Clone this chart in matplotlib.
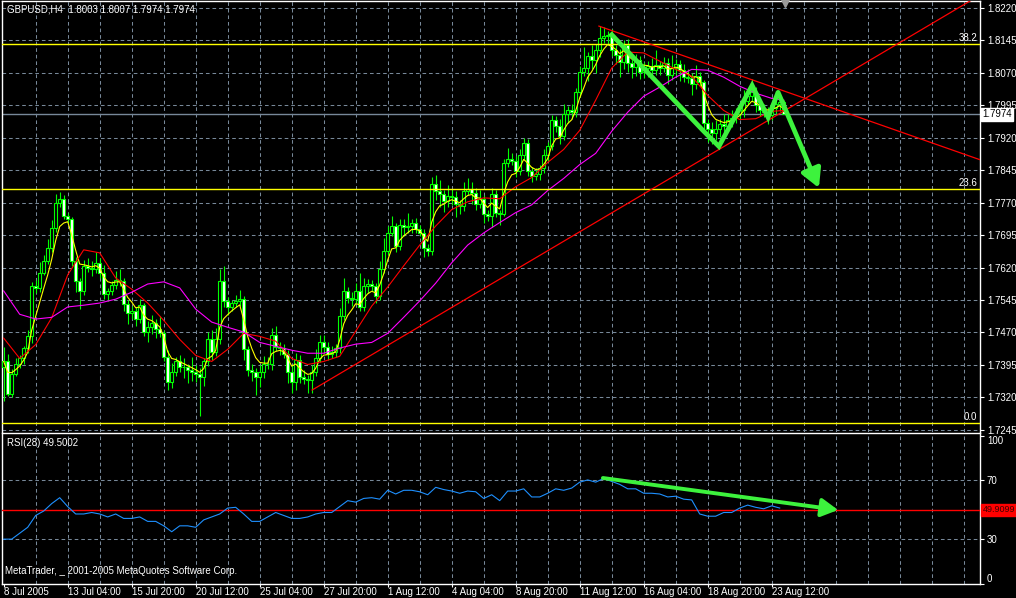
"""GBPUSD H4 candles with moving averages, Fibonacci levels, trend lines and RSI(28)."""

import matplotlib

matplotlib.use("Agg")
import matplotlib.pyplot as plt
import matplotlib.transforms as mtransforms
import numpy as np
import pandas as pd

plt.rcParams["font.family"] = ["Liberation Sans", "DejaVu Sans"]
plt.rcParams["font.size"] = 7

# ---- values --------------------------------------------------------------
first_open = 1.7391
closes = [
    1.7403, 1.7328, 1.7375, 1.7398, 1.7410, 1.7433, 1.7461, 1.7577, 1.7572, 1.7607,
    1.7635, 1.7665, 1.7711, 1.7770, 1.7779, 1.7739, 1.7732, 1.7635, 1.7588, 1.7565,
    1.7623, 1.7620, 1.7616, 1.7630, 1.7607, 1.7558, 1.7565, 1.7579, 1.7591, 1.7588,
    1.7535, 1.7514, 1.7519, 1.7500, 1.7533, 1.7472, 1.7482, 1.7491, 1.7477, 1.7468,
    1.7414, 1.7356, 1.7379, 1.7403, 1.7391, 1.7390, 1.7384, 1.7379, 1.7375, 1.7366,
    1.7403, 1.7456, 1.7426, 1.7456, 1.7588, 1.7542, 1.7530, 1.7537, 1.7542, 1.7547,
    1.7431, 1.7384, 1.7379, 1.7368, 1.7379, 1.7396, 1.7398, 1.7465, 1.7437, 1.7433,
    1.7421, 1.7379, 1.7356, 1.7407, 1.7368, 1.7363, 1.7361, 1.7379, 1.7412, 1.7449,
    1.7437, 1.7421, 1.7426, 1.7433, 1.7507, 1.7565, 1.7549, 1.7547, 1.7565, 1.7530,
    1.7577, 1.7581, 1.7577, 1.7554, 1.7616, 1.7658, 1.7700, 1.7715, 1.7670, 1.7718,
    1.7713, 1.7715, 1.7723, 1.7709, 1.7700, 1.7665, 1.7658, 1.7814, 1.7797, 1.7790,
    1.7774, 1.7786, 1.7784, 1.7767, 1.7763, 1.7797, 1.7802, 1.7793, 1.7767, 1.7779,
    1.7744, 1.7739, 1.7790, 1.7746, 1.7744, 1.7862, 1.7872, 1.7867, 1.7844, 1.7879,
    1.7907, 1.7844, 1.7832, 1.7837, 1.7849, 1.7879, 1.7900, 1.7960, 1.7948, 1.7925,
    1.7974, 1.7983, 1.7979, 1.8025, 1.8071, 1.8081, 1.8109, 1.8099, 1.8122, 1.8150,
    1.8155, 1.8157, 1.8122, 1.8111, 1.8095, 1.8134, 1.8092, 1.8083, 1.8099, 1.8071,
    1.8081, 1.8085, 1.8076, 1.8088, 1.8081, 1.8092, 1.8064, 1.8081, 1.8090, 1.8076,
    1.8060, 1.8057, 1.8044, 1.8062, 1.8048, 1.7953, 1.7941, 1.7930, 1.7941, 1.7951,
    1.7948, 1.7960, 1.7965, 1.7976, 1.7983, 1.8006, 1.8016, 1.8025, 1.7995, 1.7983,
    1.7979, 1.7972, 1.7988, 1.7997, 1.8003, 1.7974,
]
# wick lengths in pips above / below each candle body
upper_wick = [
    34, 18, 10, 12, 8, 6, 15, 10, 15, 25, 15, 20, 18, 20, 16, 8, 6, 6, 10, 8,
    15, 20, 15, 25, 12, 18, 8, 10, 20, 25, 8, 10, 12, 10, 15, 6, 15, 20, 10, 30,
    8, 15, 20, 10, 15, 20, 8, 30, 15, 12, 8, 15, 20, 25, 28, 35, 10, 8, 15, 21,
    8, 8, 12, 10, 15, 20, 15, 15, 20, 12, 10, 8, 15, 15, 10, 15, 8, 15, 20, 15,
    15, 10, 12, 10, 20, 30, 10, 15, 20, 42, 20, 12, 10, 8, 20, 30, 15, 25, 8, 15,
    15, 30, 10, 12, 10, 8, 10, 15, 20, 25, 10, 25, 15, 12, 10, 20, 25, 15, 12, 20,
    8, 10, 15, 10, 8, 10, 25, 12, 10, 15, 12, 10, 8, 12, 8, 15, 10, 12, 10, 15,
    25, 10, 15, 10, 15, 48, 10, 25, 15, 28, 20, 10, 15, 12, 15, 12, 15, 10, 15, 10,
    15, 12, 20, 35, 10, 15, 12, 30, 12, 10, 15, 20, 12, 25, 10, 5, 10, 15, 20, 12,
    25, 15, 20, 12, 15, 25, 20, 30, 12, 10, 15, 12, 15, 10, 12, 4,
]
lower_wick = [
    80, 5, 8, 6, 10, 12, 10, 15, 10, 8, 5, 6, 8, 8, 10, 6, 10, 12, 25, 40,
    8, 10, 15, 8, 10, 10, 15, 8, 8, 10, 15, 25, 12, 15, 8, 10, 25, 15, 20, 8,
    10, 20, 15, 10, 12, 25, 30, 20, 20, 90, 20, 10, 20, 10, 12, 12, 20, 10, 8, 10,
    25, 15, 20, 42, 25, 15, 10, 15, 10, 15, 10, 25, 25, 20, 15, 12, 30, 30, 10, 10,
    12, 15, 10, 12, 10, 8, 12, 15, 10, 10, 10, 15, 12, 15, 8, 8, 10, 8, 15, 10,
    20, 12, 15, 10, 8, 20, 12, 8, 20, 30, 25, 15, 20, 30, 20, 12, 10, 25, 15, 10,
    20, 12, 25, 8, 25, 5, 10, 10, 15, 10, 10, 12, 15, 10, 15, 10, 12, 8, 15, 20,
    10, 20, 15, 10, 12, 8, 30, 20, 30, 15, 12, 20, 12, 20, 35, 15, 20, 25, 20, 15,
    12, 20, 10, 12, 15, 10, 20, 10, 15, 25, 12, 10, 25, 12, 8, 25, 30, 25, 15, 20,
    20, 12, 15, 10, 12, 15, 10, 12, 15, 12, 10, 20, 10, 12, 15, 0,
]

ma_bars = list(range(0, 193, 4)) + [195]
ma_red = [
    1.7457, 1.7410, 1.7442, 1.7504, 1.7603, 1.7661, 1.7654, 1.7596, 1.7570, 1.7538,
    1.7498, 1.7454, 1.7417, 1.7403, 1.7431, 1.7468, 1.7461, 1.7450, 1.7410, 1.7396,
    1.7403, 1.7415, 1.7473, 1.7531, 1.7575, 1.7624, 1.7672, 1.7716, 1.7754, 1.7772,
    1.7781, 1.7779, 1.7807, 1.7828, 1.7863, 1.7893, 1.7937, 1.8007, 1.8081, 1.8118,
    1.8116, 1.8097, 1.8078, 1.8062, 1.8018, 1.7983, 1.7962, 1.7964, 1.7981, 1.7983,
]
ma_magenta = [
    1.7566, 1.7512, 1.7501, 1.7505, 1.7529, 1.7533, 1.7538, 1.7547, 1.7563, 1.7582,
    1.7587, 1.7573, 1.7524, 1.7494, 1.7482, 1.7471, 1.7447, 1.7438, 1.7429, 1.7422,
    1.7422, 1.7434, 1.7443, 1.7447, 1.7468, 1.7505, 1.7543, 1.7584, 1.7631, 1.7672,
    1.7700, 1.7724, 1.7747, 1.7765, 1.7798, 1.7826, 1.7858, 1.7884, 1.7935, 1.7979,
    1.8016, 1.8037, 1.8060, 1.8078, 1.8076, 1.8060, 1.8039, 1.8023, 1.8011, 1.8007,
]

rsi_bars = list(range(0, 195, 2))
rsi_values = [
    30, 30, 34, 38, 46, 49, 54, 58, 52, 47,
    47, 48, 47, 45, 47, 44, 44, 45, 42, 42,
    39, 35, 39, 39, 38, 43, 45, 47, 51, 51.5,
    47, 42, 42, 45, 48, 46, 44, 44, 45, 47,
    48, 48, 52, 56, 55, 57.5, 58, 57, 63, 60.5,
    63, 63, 62, 60, 65, 63.5, 62.5, 61, 62.5, 62,
    57.5, 60, 56, 62.5, 62.5, 64, 58.5, 58.5, 61, 64,
    63, 64.5, 68.5, 70, 68.5, 71, 69, 67, 64, 64,
    61, 61, 60.5, 58.5, 59, 57, 56.5, 47, 45.5, 45.5,
    48, 48, 51, 53, 51.5, 50.5, 52.5, 51,
]

price_ticks = [1.7245, 1.7320, 1.7395, 1.7470, 1.7545, 1.7620, 1.7695,
               1.7770, 1.7845, 1.7920, 1.7995, 1.8070, 1.8145, 1.8220]
rsi_ticks = [0, 30, 70, 100]
date_bars = [0, 16, 32, 48, 64, 80, 96, 112, 128, 144, 160, 176, 192]
date_labels = ["8 Jul 2005", "13 Jul 04:00", "15 Jul 20:00", "20 Jul 12:00",
               "25 Jul 04:00", "27 Jul 20:00", "1 Aug 12:00", "4 Aug 04:00",
               "8 Aug 20:00", "11 Aug 12:00", "16 Aug 04:00", "18 Aug 20:00",
               "23 Aug 12:00"]

fib_levels = [1.8136, 1.7802, 1.7261]
fib_labels = ["38.2", "23.6", "0.0"]
last_price = 1.7974
rsi_level = 49.9099

trend_up_bars, trend_up_prices = [77.1, 250], [1.7337, 1.8282]
trend_down_bars, trend_down_prices = [148.8, 250], [1.8178, 1.7850]
zigzag_bars = [151.6, 174.8, 178.8, 187.1, 191.1, 193.6, 203.8]
zigzag_prices = [1.8162, 1.7937, 1.7900, 1.8041, 1.7967, 1.8025, 1.7804]
rsi_arrow_bars = [149.8, 208.6]
rsi_arrow_values = [71.3, 49.7]

# ---- styling ---------------------------------------------------------------
LIME = "#00ff00"
ARROW = "#3df23d"
GRID = "#778899"
DASH = (0, (3.5, 2.8))
W, H = 1016, 598
X_MIN, X_MAX = -0.425, 244.075


def style_axes(ax):
    ax.set_facecolor("black")
    for side in ax.spines.values():
        side.set_color("white")
        side.set_linewidth(1.0)
    ax.yaxis.tick_right()
    ax.tick_params(colors="white", labelcolor="white", length=3, width=0.8,
                   direction="out", pad=2, labelsize=7)
    ax.set_xlim(X_MIN, X_MAX)
    for b in range(8, 244, 8):
        ax.axvline(b, color=GRID, lw=0.75, ls=DASH, zorder=1)


def draw_candles(ax):
    c = np.array(closes)
    o = np.concatenate([[first_open], c[:-1]])
    top, bot = np.maximum(o, c), np.minimum(o, c)
    hi = top + np.array(upper_wick) / 1e4
    lo = bot - np.array(lower_wick) / 1e4
    x = np.arange(len(c))
    ax.vlines(x, lo, hi, color=LIME, lw=0.8, zorder=3)
    face = np.where(c >= o, "black", "white")
    ax.bar(x, np.maximum(top - bot, 0.00004), bottom=bot, width=0.62,
           color=face, edgecolor=LIME, lw=0.8, zorder=3.5)


def arrow(ax, xs, ys, lw, scale):
    ax.plot(xs[:-1], ys[:-1], color=ARROW, lw=lw, solid_joinstyle="miter",
            solid_capstyle="butt", zorder=7)
    ax.annotate("", xy=(xs[-1], ys[-1]), xytext=(xs[-2], ys[-2]),
                arrowprops=dict(arrowstyle="-|>,head_length=1.0,head_width=0.55",
                                color=ARROW, lw=lw, mutation_scale=scale,
                                shrinkA=0, shrinkB=0),
                zorder=7, annotation_clip=False)


def main():
    fig = plt.figure(figsize=(W / 100, H / 100), dpi=100, facecolor="black")
    ax = fig.add_axes([2 / W, 1 - 432 / H, 978 / W, 431 / H])
    ax2 = fig.add_axes([2 / W, 1 - 584 / H, 978 / W, 151 / H])

    # ---- price panel
    style_axes(ax)
    ax.spines["bottom"].set_visible(False)
    ax.set_ylim(1.7240, 1.8236)
    ax.set_yticks(price_ticks)
    ax.set_yticklabels([f"{p:.4f}" for p in price_ticks])
    ax.set_xticks([])
    for p in price_ticks:
        ax.axhline(p, color=GRID, lw=0.75, ls=DASH, zorder=1)

    blend = mtransforms.blended_transform_factory(ax.transAxes, ax.transData)
    for level, label in zip(fib_levels, fib_labels):
        ax.axhline(level, color="yellow", lw=1.0, zorder=5)
        ax.text(0.997, level + 0.0003, label, transform=blend, ha="right",
                va="bottom", color="white", zorder=8)
    ax.axhline(last_price, color=GRID, lw=1.0, zorder=2)

    draw_candles(ax)
    yellow = pd.Series(closes).ewm(span=5, adjust=False).mean()
    ax.plot(np.arange(len(closes)), yellow, color="yellow", lw=0.8, zorder=4)
    ax.plot(ma_bars, ma_red, color="red", lw=0.8, zorder=4)
    ax.plot(ma_bars, ma_magenta, color="magenta", lw=0.8, zorder=4)

    ax.plot(trend_up_bars, trend_up_prices, color="red", lw=0.9, zorder=6)
    ax.plot(trend_down_bars, trend_down_prices, color="red", lw=0.9, zorder=6)
    arrow(ax, zigzag_bars, zigzag_prices, lw=3.4, scale=11)

    ax.text(1.0025, last_price, f"{last_price:.4f}", transform=blend, ha="left",
            va="center", color="black", clip_on=False,
            bbox=dict(facecolor="white", edgecolor="white", pad=1.0))
    ax.text(0.005, 0.993, "GBPUSD,H4  1.8003 1.8007 1.7974 1.7974",
            transform=ax.transAxes, ha="left", va="top", color="white")
    top = mtransforms.blended_transform_factory(ax.transData, ax.transAxes)
    ax.plot([195.3], [0.995], marker="v", ms=6, color="#9a9a9a",
            transform=top, clip_on=False, zorder=9)

    # ---- RSI panel
    style_axes(ax2)
    ax2.set_ylim(-0.3, 101.7)
    ax2.set_yticks(rsi_ticks)
    ax2.set_yticklabels([str(t) for t in rsi_ticks])
    for t in (30, 70):
        ax2.axhline(t, color=GRID, lw=0.75, ls=DASH, zorder=1)
    ax2.set_xticks(date_bars)
    ax2.set_xticklabels(date_labels, ha="left")
    ax2.tick_params(axis="x", length=2, pad=0.5)
    ax2.get_yticklabels()[0].set_va("bottom")
    ax2.get_yticklabels()[-1].set_va("top")

    ax2.axhline(rsi_level, color="red", lw=1.0, zorder=3)
    ax2.plot(rsi_bars, rsi_values, color="#1e90ff", lw=0.8, zorder=4)
    arrow(ax2, rsi_arrow_bars, rsi_arrow_values, lw=2.8, scale=10)

    blend2 = mtransforms.blended_transform_factory(ax2.transAxes, ax2.transData)
    ax2.text(1.0025, rsi_level, f"{rsi_level:.4f}", transform=blend2, ha="left",
             va="center", color="#400000", fontsize=6.5, clip_on=False,
             bbox=dict(facecolor="red", edgecolor="red", pad=1.0))
    ax2.text(0.005, 0.935, "RSI(28) 49.5002", transform=ax2.transAxes,
             ha="left", va="center", color="white")
    ax2.text(0.003, 0.085, "MetaTrader, _ 2001-2005 MetaQuotes Software Corp.",
             transform=ax2.transAxes, ha="left", va="center", color="white")

    fig.savefig("out.png", dpi=100, facecolor="black")
    plt.close(fig)


if __name__ == "__main__":
    main()
